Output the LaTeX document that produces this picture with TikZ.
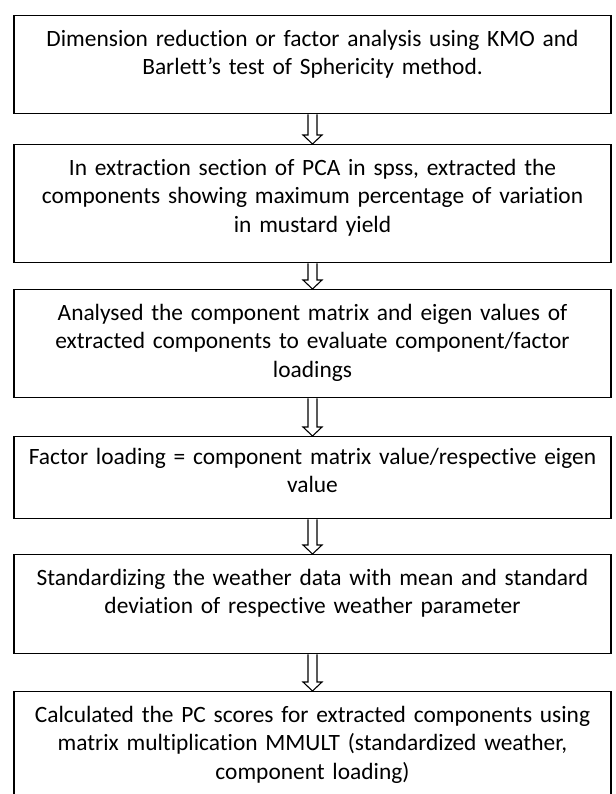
\documentclass[tikz,border=0pt]{standalone}
\usepackage{fontspec}
\setmainfont{Carlito}[Ligatures=NoCommon]
\usetikzlibrary{calc}
\begin{document}
\begin{tikzpicture}[x=1pt,y=-1pt,
  stepbox/.style={draw=black, line width=1.3pt, minimum width=597pt, inner sep=0pt, anchor=north},
  txt/.style={align=center, text width=597pt, inner sep=0pt, anchor=north, font=\fontsize{23.4}{28.5}\selectfont},
  harrow/.style={draw=black, line width=1.1pt, fill=white, line join=miter}]
\useasboundingbox (0,0) rectangle (615,794);
\clip (0,0) rectangle (615,794);
\fill[white] (0,0) rectangle (615,794);

\node[stepbox, minimum height=98pt]  (b1) at (312.5,15)  {};
\node[stepbox, minimum height=118pt] (b2) at (312.5,144) {};
\node[stepbox, minimum height=108pt] (b3) at (312.5,289) {};
\node[stepbox, minimum height=82pt]  (b4) at (312.5,436) {};
\node[stepbox, minimum height=99pt]  (b5) at (312.5,554) {};
\node[stepbox, minimum height=120pt] (b6) at (312.5,691) {};

\node[txt] (t1) at ($(b1.north)+(0,15)$) {Dimension reduction or factor analysis using KMO and\\Barlett’s test of Sphericity method.};
\node[txt] (t2) at ($(b2.north)+(0,15)$) {In extraction section of PCA in spss, extracted the\\components showing maximum percentage of variation\\in mustard yield};
\node[txt] (t3) at ($(b3.north)+(0,15)$) {Analysed the component matrix and eigen values of\\extracted components to evaluate component/factor\\loadings};
\node[txt] (t4) at ($(b4.north)+(0,12)$) {Factor loading = component matrix value/respective eigen\\value};
\node[txt] (t5) at ($(b5.north)+(0,15)$) {Standardizing the weather data with mean and standard\\deviation of respective weather parameter};
\node[txt] (t6) at ($(b6.north)+(0,15)$) {Calculated the PC scores for extracted components using\\matrix multiplication MMULT (standardized weather,\\component loading)};

\foreach \a/\b in {b1/b2,b2/b3,b3/b4,b4/b5,b5/b6}{
  \draw[harrow] ($(\a.south)+(-4.5,0)$) -- ($(\b.north)+(-4.5,-9)$) -- ($(\b.north)+(-9.5,-9)$) -- (\b.north) -- ($(\b.north)+(9.5,-9)$) -- ($(\b.north)+(4.5,-9)$) -- ($(\a.south)+(4.5,0)$);
}
\end{tikzpicture}
\end{document}
